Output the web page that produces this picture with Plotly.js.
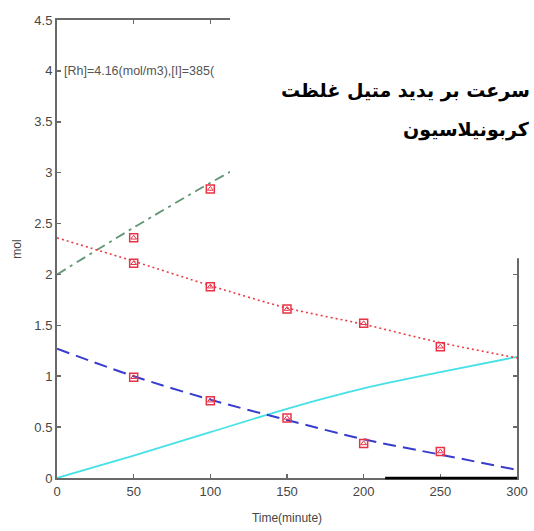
<!DOCTYPE html>
<html>
<head>
<meta charset="utf-8">
<script src="https://cdn.plot.ly/plotly-3.0.1.min.js"></script>
<style>
  html, body { margin: 0; padding: 0; background: #fff; }
  #chart { width: 534px; height: 531px; }
</style>
</head>
<body>
<div id="chart"></div>
<script>
// Time axis (minutes) for the fitted curves
const fitTime = [0, 50, 100, 150, 200, 250, 300];
// Fitted model curves (mol)
const redFit  = [2.36, 2.13, 1.89, 1.67, 1.51, 1.33, 1.18];
const blueFit = [1.27, 1.00, 0.77, 0.57, 0.38, 0.23, 0.08];
const cyanFit = [0.00, 0.22, 0.45, 0.68, 0.88, 1.04, 1.19];
const greenFitTime = [0, 50, 100, 150];
const greenFit = [2.00, 2.46, 2.90, 3.31];

// Measured points (mol)
const expTime = [50, 100, 150, 200, 250];
const redExp  = [2.11, 1.88, 1.66, 1.52, 1.29];
const blueExp = [0.99, 0.76, 0.59, 0.34, 0.26];
const greenExpTime = [50, 100];
const greenExp = [2.36, 2.84];

// Tick values and labels
const xTicks = [0, 50, 100, 150, 200, 250, 300];
const yTicks = [0, 0.5, 1, 1.5, 2, 2.5, 3, 3.5, 4, 4.5];
const yTickText = ['0', '0.5', '1', '1.5', '2', '2.5', '3', '3.5', '4', '4.5'];

const conditionText = '[Rh]=4.16(mol/m3),[I]=385(';
// caption lines, words listed so they read left to right as laid out
const captionLine1 = 'سرعت بر یدید متیل غلظت';
const captionLine2 = 'کربونیلاسیون';

const markerRed = 'rgb(232,50,70)';

function fitLine(x, y, color, dash, width) {
  return { x: x, y: y, type: 'scatter', mode: 'lines',
    line: { color: color, dash: dash, width: width, shape: 'spline', smoothing: 0.8 },
    hoverinfo: 'skip', showlegend: false };
}
function expPoints(x, y) {
  return [
    { x: x, y: y, type: 'scatter', mode: 'markers', showlegend: false,
      marker: { symbol: 'square-open', size: 8, color: markerRed, line: { width: 1.5, color: markerRed } } },
    { x: x, y: y, type: 'scatter', mode: 'markers', showlegend: false,
      marker: { symbol: 'triangle-up-open', size: 5, color: markerRed, line: { width: 1, color: markerRed } } }
  ];
}

const data = [
  fitLine(fitTime, cyanFit, 'rgb(70,225,230)', 'solid', 1.8),
  fitLine(greenFitTime, greenFit, 'rgb(95,150,115)', '10px,5px,3px,5px', 1.8),
  fitLine(fitTime, redFit, 'rgb(235,60,70)', '2px,3px', 1.6),
  fitLine(fitTime, blueFit, 'rgb(55,60,205)', '13px,7px', 2),
  ...expPoints(expTime, redExp),
  ...expPoints(expTime, blueExp),
  ...expPoints(greenExpTime, greenExp)
];

const axisGray = 'rgb(105,105,105)';
const labelFont = 'Liberation Sans, Arial, sans-serif';
const tickFont = { family: labelFont, size: 13, color: 'rgb(70,70,70)' };

const layout = {
  width: 534, height: 531,
  margin: { l: 57, r: 17, t: 20, b: 53 },
  paper_bgcolor: '#fff', plot_bgcolor: '#fff',
  showlegend: false,
  xaxis: {
    range: [0, 300], tickvals: xTicks, ticktext: xTicks.map(String),
    ticks: 'inside', ticklen: 4, tickcolor: axisGray, tickwidth: 1.5,
    showline: true, linecolor: axisGray, linewidth: 2, mirror: 'ticks',
    showgrid: false, zeroline: false, tickfont: tickFont,
    title: { text: 'Time(minute)', font: { family: labelFont, size: 12, color: 'rgb(70,70,70)' }, standoff: 16 }
  },
  yaxis: {
    range: [0, 4.5], tickvals: yTicks, ticktext: yTickText,
    ticks: 'inside', ticklen: 4, tickcolor: axisGray, tickwidth: 1.5,
    showline: true, linecolor: axisGray, linewidth: 2, mirror: 'ticks',
    showgrid: false, zeroline: false, tickfont: tickFont,
    title: { text: 'mol', font: { family: labelFont, size: 12, color: 'rgb(70,70,70)' }, standoff: 10 }
  },
  shapes: [
    // white panel holding the Persian caption
    { type: 'rect', xref: 'paper', yref: 'paper', x0: 0.376, x1: 1.2, y0: 0.48, y1: 1.2,
      fillcolor: '#fff', line: { width: 0 }, layer: 'above' },
    // darker segment of the time axis on the right
    { type: 'line', xref: 'x', yref: 'paper', x0: 214, x1: 300, y0: 0, y1: 0,
      line: { color: '#000', width: 2.5 }, layer: 'above' }
  ],
  annotations: [
    { xref: 'x', yref: 'y', x: 3, y: 4, xanchor: 'left', yanchor: 'middle', showarrow: false,
      text: conditionText, font: { family: labelFont, size: 12.5, color: 'rgb(85,85,85)' } },
    { xref: 'paper', yref: 'paper', x: 1.033, y: (478 - 90) / 458, xanchor: 'right', yanchor: 'middle',
      showarrow: false, text: '<b>' + captionLine1 + '</b>',
      font: { family: 'DejaVu Sans, sans-serif', size: 19, color: '#000' } },
    { xref: 'paper', yref: 'paper', x: 1.033, y: (478 - 129) / 458, xanchor: 'right', yanchor: 'middle',
      showarrow: false, text: '<b>' + captionLine2 + '</b>',
      font: { family: 'DejaVu Sans, sans-serif', size: 19, color: '#000' } }
  ]
};

Plotly.newPlot('chart', data, layout, { staticPlot: true, displayModeBar: false });
</script>
</body>
</html>
